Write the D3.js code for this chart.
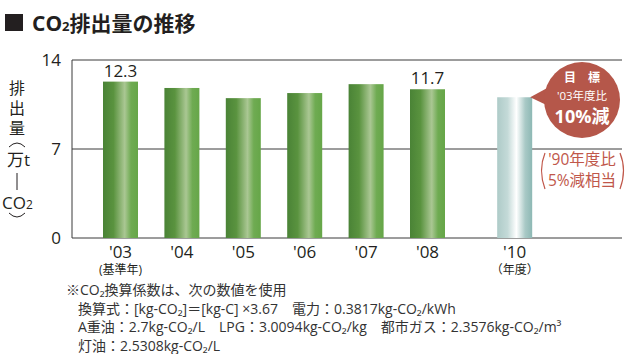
<!DOCTYPE html>
<html>
<head>
<meta charset="utf-8">
<script src="https://cdn.jsdelivr.net/npm/d3@7"></script>
<style>
  body { margin: 0; background: #fff; }
  svg { display: block; font-family: "Open Sans", "Noto Sans CJK JP", sans-serif; }
</style>
</head>
<body>
<div id="chart"></div>
<script>
// Data
const years = ["'03", "'04", "'05", "'06", "'07", "'08", "'10"];
const slots = [0, 1, 2, 3, 4, 5, 6.42];   // '10 sits after a gap
const emissions = [12.3, 11.8, 11.0, 11.4, 12.1, 11.7, 11.07];
const isTarget = [false, false, false, false, false, false, true];
const valueLabels = ["12.3", "", "", "", "", "11.7", ""];
const subLabels = ["(基準年)", "", "", "", "", "", "（年度）"];
const yTicks = [0, 7, 14];
const notes = [
  "※CO₂換算係数は、次の数値を使用",
  "換算式：[kg-CO₂]＝[kg-C] ×3.67　電力：0.3817kg-CO₂/kWh",
  "A重油：2.7kg-CO₂/L　LPG：3.0094kg-CO₂/kg　都市ガス：2.3576kg-CO₂/m³",
  "灯油：2.5308kg-CO₂/L"
];

const width = 625, height = 354;
const plot = { left: 72, right: 622, top: 60, bottom: 238 };

const svg = d3.select('#chart').append('svg')
  .attr('width', width)
  .attr('height', height);

// Gradients for bars
const defs = svg.append('defs');
const green = defs.append('linearGradient').attr('id', 'green');
[[0, '#4a8336'], [0.3, '#5a933f'], [0.62, '#aac793'], [0.8, '#6fab52'], [1, '#66a648']]
  .forEach(s => green.append('stop').attr('offset', s[0]).attr('stop-color', s[1]));
const teal = defs.append('linearGradient').attr('id', 'teal');
[[0, '#aecbc8'], [0.3, '#c4dad8'], [0.55, '#ffffff'], [0.8, '#a9c9c6'], [1, '#8db8b4']]
  .forEach(s => teal.append('stop').attr('offset', s[0]).attr('stop-color', s[1]));

// Scales
const x = d3.scaleLinear().domain([0, 5]).range([120.5, 427.5]);
const y = d3.scaleLinear().domain([0, 14]).range([plot.bottom, plot.top]);
const barW = 35;

// Title
svg.append('rect').attr('x', 5).attr('y', 14).attr('width', 18).attr('height', 17).attr('fill', '#231f20');
const title = svg.append('text').attr('x', 32).attr('y', 31)
  .attr('font-size', 21).attr('font-weight', 'bold').attr('fill', '#231f20');
title.append('tspan').text('CO');
title.append('tspan').attr('font-size', 13).text('2');
title.append('tspan').text('排出量の推移');

// Grid lines
svg.append('g').selectAll('line')
  .data(yTicks)
  .enter().append('line')
  .attr('x1', plot.left).attr('x2', plot.right)
  .attr('y1', d => y(d)).attr('y2', d => y(d))
  .attr('stroke', '#3a3a3a').attr('stroke-width', 1);
svg.append('line')
  .attr('x1', plot.left).attr('x2', plot.left)
  .attr('y1', y(14)).attr('y2', y(0))
  .attr('stroke', '#3a3a3a');

// Y tick labels
svg.append('g').selectAll('text')
  .data(yTicks)
  .enter().append('text')
  .attr('x', 61).attr('y', d => y(d) + 6)
  .attr('text-anchor', 'end')
  .attr('font-size', 17).attr('fill', '#231f20')
  .text(d => d);

// Vertical axis title
const yTitle = [
  { t: '排', y: 94 }, { t: '出', y: 114 }, { t: '量', y: 134 }
];
svg.append('g').selectAll('text')
  .data(yTitle)
  .enter().append('text')
  .attr('x', 17).attr('y', d => d.y)
  .attr('text-anchor', 'middle')
  .attr('font-size', 16).attr('fill', '#231f20')
  .text(d => d.t);
svg.append('path').attr('d', 'M9,147 Q17,139 25,147').attr('fill', 'none').attr('stroke', '#231f20');
svg.append('text').attr('x', 7).attr('y', 166).attr('font-size', 17).attr('fill', '#231f20').text('万t');
svg.append('line').attr('x1', 17).attr('x2', 17).attr('y1', 173).attr('y2', 190).attr('stroke', '#231f20');
const co2v = svg.append('text').attr('x', 2).attr('y', 209).attr('font-size', 17).attr('fill', '#231f20');
co2v.append('tspan').text('CO');
co2v.append('tspan').attr('font-size', 12).text('2');
svg.append('path').attr('d', 'M9,213 Q17,221 25,213').attr('fill', 'none').attr('stroke', '#231f20');

// Bars
const bars = years.map((yr, i) => ({ yr, slot: slots[i], v: emissions[i], target: isTarget[i], label: valueLabels[i], sub: subLabels[i] }));

svg.append('g').selectAll('rect')
  .data(bars)
  .enter().append('rect')
  .attr('x', d => x(d.slot) - barW / 2)
  .attr('y', d => y(d.v))
  .attr('width', barW)
  .attr('height', d => y(0) - y(d.v))
  .attr('fill', d => d.target ? 'url(#teal)' : 'url(#green)');

// Value labels
svg.append('g').selectAll('text')
  .data(bars.filter(d => d.label))
  .enter().append('text')
  .attr('x', d => x(d.slot))
  .attr('y', d => y(d.v) - 5)
  .attr('text-anchor', 'middle')
  .attr('font-size', 17).attr('fill', '#231f20')
  .text(d => d.label);

// X labels
svg.append('g').selectAll('text')
  .data(bars)
  .enter().append('text')
  .attr('x', d => x(d.slot))
  .attr('y', 258)
  .attr('text-anchor', 'middle')
  .attr('font-size', 17).attr('fill', '#231f20')
  .text(d => d.yr);
svg.append('g').selectAll('text')
  .data(bars.filter(d => d.sub))
  .enter().append('text')
  .attr('x', d => x(d.slot))
  .attr('y', 274)
  .attr('text-anchor', 'middle')
  .attr('font-size', 12).attr('fill', '#231f20')
  .text(d => d.sub);

// Target callout
const tgt = bars[bars.length - 1];
const cx = 582, cy = 100, r = 38;
svg.append('path')
  .attr('d', `M${x(tgt.slot) + barW / 2 - 2},${y(tgt.v)} L${cx - 20},${cy - 20} L${cx - 25},${cy + 10} Z`)
  .attr('fill', '#b5574a');
svg.append('circle').attr('cx', cx).attr('cy', cy).attr('r', r).attr('fill', '#b5574a');
svg.append('text').attr('x', cx).attr('y', 82).attr('text-anchor', 'middle')
  .attr('font-size', 12).attr('font-weight', 'bold').attr('fill', '#fff').text('目　標');
svg.append('text').attr('x', cx).attr('y', 100).attr('text-anchor', 'middle')
  .attr('font-size', 11.5).attr('fill', '#fff').text("'03年度比");
svg.append('text').attr('x', cx).attr('y', 123).attr('text-anchor', 'middle')
  .attr('font-size', 18).attr('font-weight', 'bold').attr('fill', '#fff').text('10%減');

// Side note with tall brackets
const noteColor = '#c0574a';
svg.append('text').attr('x', 582).attr('y', 165).attr('text-anchor', 'middle')
  .attr('font-size', 15.5).attr('fill', noteColor).text("'90年度比");
svg.append('text').attr('x', 582).attr('y', 186).attr('text-anchor', 'middle')
  .attr('font-size', 15.5).attr('fill', noteColor).text('5%減相当');
svg.append('path').attr('d', 'M545,153 Q538,170 545,189').attr('fill', 'none').attr('stroke', noteColor).attr('stroke-width', 1.2);
svg.append('path').attr('d', 'M620,153 Q627,170 620,189').attr('fill', 'none').attr('stroke', noteColor).attr('stroke-width', 1.2);

// Footnotes
svg.append('g').selectAll('text')
  .data(notes)
  .enter().append('text')
  .attr('x', (d, i) => i === 0 ? 66 : 78)
  .attr('y', (d, i) => 295 + i * 18.5)
  .attr('font-size', 14).attr('fill', '#333')
  .text(d => d);
</script>
</body>
</html>
